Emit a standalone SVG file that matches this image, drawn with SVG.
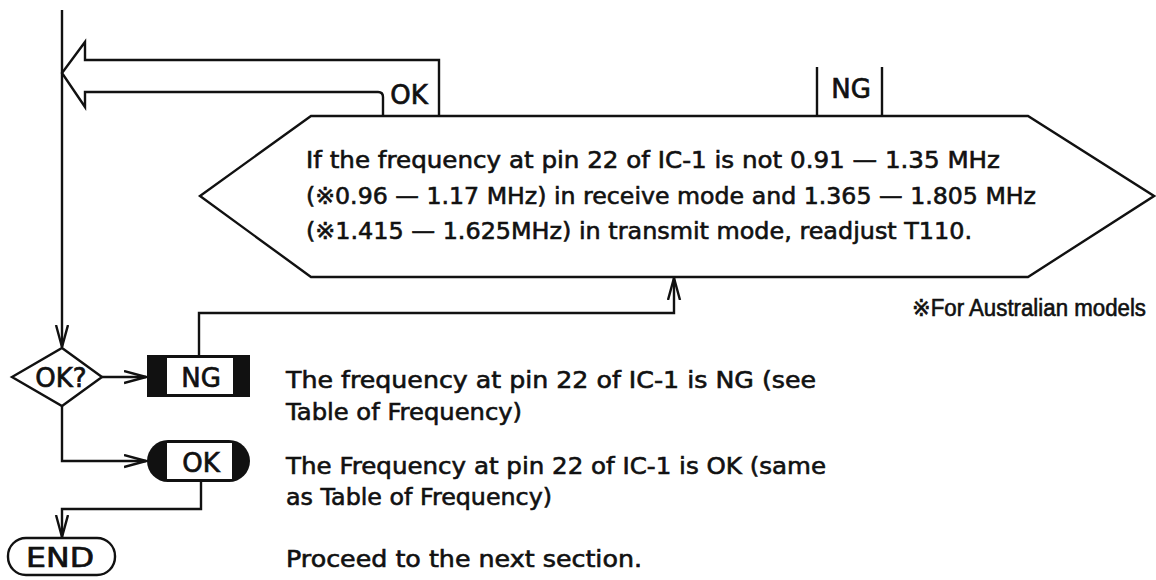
<svg xmlns="http://www.w3.org/2000/svg" width="1156" height="580" viewBox="0 0 1156 580">
<defs>
<style>
.ln{fill:none;stroke:#111;stroke-width:2.4;stroke-linejoin:miter}
.sh{fill:#fff;stroke:#111;stroke-width:2.4}
.t{font-family:"DejaVu Sans","Liberation Sans",sans-serif;font-size:23px;fill:#111;stroke:#111;stroke-width:0.6}
.fn{font-family:"Liberation Sans","DejaVu Sans",sans-serif;font-size:23px;fill:#111;stroke:#111;stroke-width:0.6}
.lb{font-family:"DejaVu Sans","Liberation Sans",sans-serif;font-size:26px;fill:#111;stroke:#111;stroke-width:0.7;text-anchor:middle}
</style>
<marker id="ah" markerUnits="userSpaceOnUse" markerWidth="26" markerHeight="16" refX="22" refY="7" orient="auto">
<path d="M0,1 L22,7 L0,13" fill="none" stroke="#111" stroke-width="2.4"/>
</marker>
</defs>
<rect width="1156" height="580" fill="#fff"/>
<g id="connectors">
<path class="ln" d="M62,10 V347" marker-end="url(#ah)"/>
<path class="ln" d="M439,116 V60 H85 V42 L62,73 L85,107 V92 H378 Q383,92 383,97 V116"/>
<path class="ln" d="M817,67 V116 M882,67 V116"/>
<path class="ln" d="M102,377 H146" marker-end="url(#ah)"/>
<path class="ln" d="M62,406 V461 H146" marker-end="url(#ah)"/>
<path class="ln" d="M199,355 V313 H674 V278" marker-end="url(#ah)"/>
<path class="ln" d="M201,482 V509 H62 V537" marker-end="url(#ah)"/>
<text class="lb" x="409" y="104" font-size="27">OK</text>
<text class="lb" x="851" y="98">NG</text>
</g>
<g id="adjust">
<polygon class="sh" points="200,196 311,116 1028,116 1154,196 1028,277 311,277"/>
<text class="t" x="306" y="168" textLength="694" lengthAdjust="spacingAndGlyphs">If the frequency at pin 22 of IC-1 is not 0.91 — 1.35 MHz</text>
<text class="t" x="306" y="204" textLength="730" lengthAdjust="spacingAndGlyphs">(※0.96 — 1.17 MHz) in receive mode and 1.365 — 1.805 MHz</text>
<text class="t" x="306" y="239" textLength="666" lengthAdjust="spacingAndGlyphs">(※1.415 — 1.625MHz) in transmit mode, readjust T110.</text>
</g>
<g id="note">
<text class="fn" x="912" y="316" textLength="234" lengthAdjust="spacingAndGlyphs">※For Australian models</text>
</g>
<g id="decision">
<polygon class="sh" points="12,377 62,348 102,377 62,406"/>
<text class="lb" x="61" y="387">OK?</text>
</g>
<g id="ng">
<rect x="147" y="355" width="103" height="42" fill="#111"/>
<rect x="167" y="358" width="66" height="36" fill="#fff"/>
<text class="lb" x="201" y="387">NG</text>
<text class="t" x="286" y="388" textLength="530" lengthAdjust="spacingAndGlyphs">The frequency at pin 22 of IC-1 is NG (see</text>
<text class="t" x="286" y="420" textLength="236" lengthAdjust="spacingAndGlyphs">Table of Frequency)</text>
</g>
<g id="ok">
<rect x="147" y="440" width="103" height="42" rx="21" fill="#111"/>
<rect x="167" y="443" width="65" height="36" fill="#fff"/>
<text class="lb" x="201" y="472">OK</text>
<text class="t" x="286" y="474" textLength="540" lengthAdjust="spacingAndGlyphs">The Frequency at pin 22 of IC-1 is OK (same</text>
<text class="t" x="286" y="505" textLength="266" lengthAdjust="spacingAndGlyphs">as Table of Frequency)</text>
</g>
<g id="end">
<rect class="sh" x="8" y="538" width="107" height="37" rx="18"/>
<text class="lb" x="60" y="567" textLength="68" lengthAdjust="spacingAndGlyphs">END</text>
<text class="t" x="286" y="567" textLength="356" lengthAdjust="spacingAndGlyphs">Proceed to the next section.</text>
</g>
</svg>
